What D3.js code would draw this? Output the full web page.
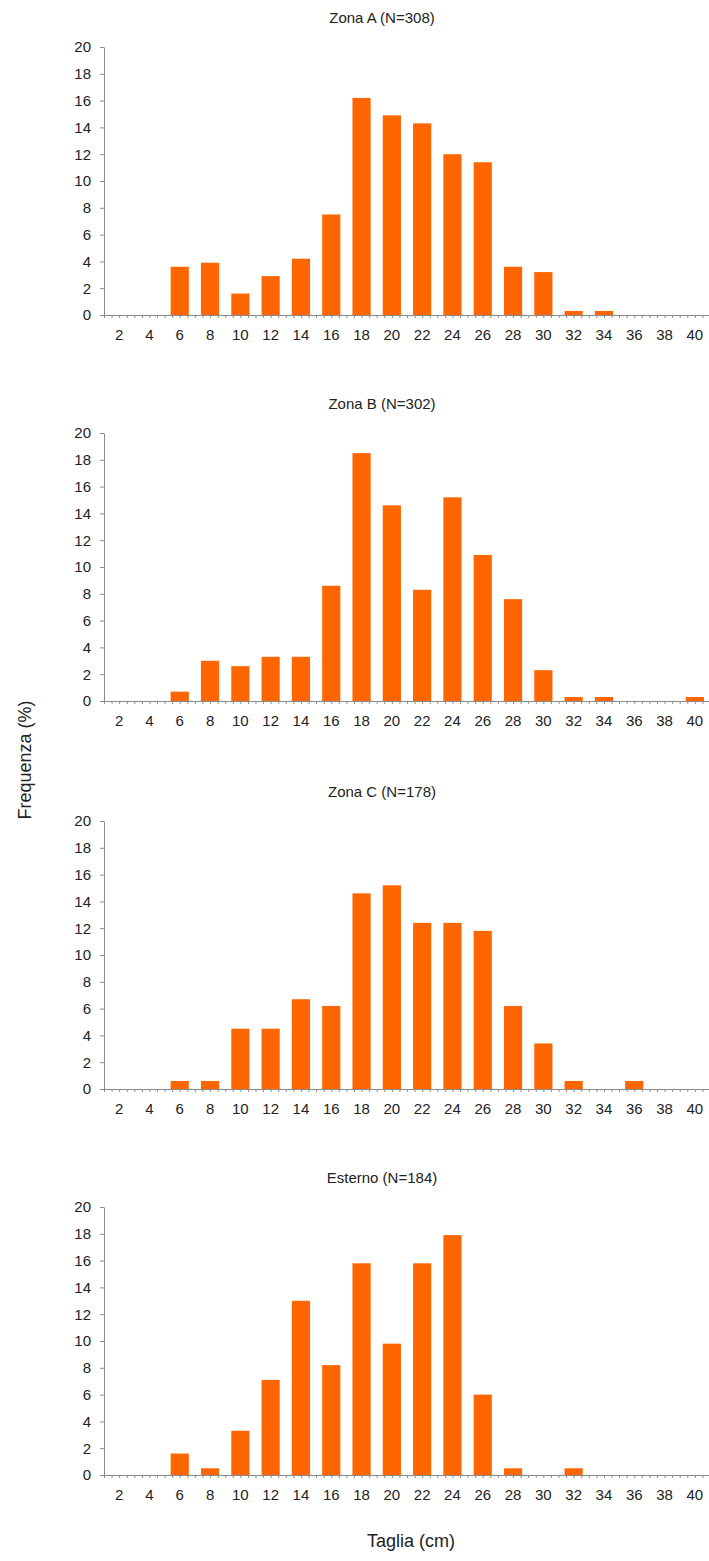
<!DOCTYPE html>
<html>
<head>
<meta charset="utf-8">
<script src="https://cdn.jsdelivr.net/npm/d3@7"></script>
<style>
  body { margin: 0; background: #ffffff; }
  svg { display: block; font-family: "Liberation Sans", Arial, sans-serif; }
</style>
</head>
<body>
<div id="chart"></div>
<script>
// size classes (cm)
const sizes = [2, 4, 6, 8, 10, 12, 14, 16, 18, 20, 22, 24, 26, 28, 30, 32, 34, 36, 38, 40];

// frequency (%) per zone
const zonaA = [0, 0, 3.6, 3.9, 1.6, 2.9, 4.2, 7.5, 16.2, 14.9, 14.3, 12.0, 11.4, 3.6, 3.2, 0.3, 0.3, 0, 0, 0];
const zonaB = [0, 0, 0.7, 3.0, 2.6, 3.3, 3.3, 8.6, 18.5, 14.6, 8.3, 15.2, 10.9, 7.6, 2.3, 0.3, 0.3, 0, 0, 0.3];
const zonaC = [0, 0, 0.6, 0.6, 4.5, 4.5, 6.7, 6.2, 14.6, 15.2, 12.4, 12.4, 11.8, 6.2, 3.4, 0.6, 0, 0.6, 0, 0];
const esterno = [0, 0, 1.6, 0.5, 3.3, 7.1, 13.0, 8.2, 15.8, 9.8, 15.8, 17.9, 6.0, 0.5, 0, 0.5, 0, 0, 0, 0];

const titles = ["Zona A (N=308)", "Zona B (N=302)", "Zona C (N=178)", "Esterno (N=184)"];
const series = [zonaA, zonaB, zonaC, esterno];
const yTicks = [0, 2, 4, 6, 8, 10, 12, 14, 16, 18, 20];

const W = 709, H = 1561;
const plotLeft = 104, plotRight = 710, plotH = 268;
const panelTops = [47, 433, 821, 1207];

var svg = d3.select("#chart").append("svg")
  .attr("width", W)
  .attr("height", H);

var x = d3.scaleBand()
  .domain(sizes)
  .range([plotLeft, plotRight])
  .paddingInner(0.4)
  .paddingOuter(0.2);

// fine tick marks along the x axis (four per class)
var xFine = d3.scaleLinear()
  .domain([0, sizes.length * 4])
  .range([plotLeft, plotRight]);

var y = d3.scaleLinear()
  .domain([0, 20])
  .range([plotH, 0]);

series.forEach(function (values, i) {
  var g = svg.append("g")
    .attr("transform", "translate(0," + panelTops[i] + ")");

  // title
  g.append("text")
    .attr("x", 382)
    .attr("y", -29 + 5)
    .attr("text-anchor", "middle")
    .style("font-size", "15px")
    .style("fill", "#222")
    .text(titles[i]);

  // bars
  g.append("g")
    .selectAll("rect")
    .data(values.map((v, k) => ({ size: sizes[k], value: v })))
    .enter()
    .append("rect")
      .attr("x", d => x(d.size))
      .attr("y", d => y(d.value))
      .attr("width", x.bandwidth())
      .attr("height", d => plotH - y(d.value))
      .style("fill", "#ff6600");

  // y axis
  var yAxis = g.append("g")
    .attr("transform", "translate(" + plotLeft + ",0)")
    .call(d3.axisLeft(y).tickValues(yTicks).tickSize(4).tickPadding(9).tickSizeOuter(0));
  yAxis.select(".domain").attr("stroke", "#8a8a8a");
  yAxis.selectAll(".tick line").attr("stroke", "#8a8a8a");
  yAxis.selectAll("text").style("font-size", "15px").style("fill", "#222");

  // x axis tick marks
  var xTicks = g.append("g")
    .attr("transform", "translate(0," + plotH + ")")
    .call(d3.axisBottom(xFine).ticks(sizes.length * 4).tickSize(3).tickFormat("").tickSizeOuter(0));
  xTicks.select(".domain").attr("stroke", "#8a8a8a");
  xTicks.selectAll(".tick line").attr("stroke", "#8a8a8a");

  // x axis labels
  var xAxis = g.append("g")
    .attr("transform", "translate(0," + plotH + ")")
    .call(d3.axisBottom(x).tickSize(0).tickPadding(14));
  xAxis.select(".domain").remove();
  xAxis.selectAll("text").style("font-size", "15px").style("fill", "#222");
});

// axis titles
svg.append("text")
  .attr("transform", "translate(25,760) rotate(-90)")
  .attr("text-anchor", "middle")
  .attr("dy", "0.35em")
  .style("font-size", "18px")
  .style("fill", "#222")
  .text("Frequenza (%)");

svg.append("text")
  .attr("x", 411)
  .attr("y", 1541)
  .attr("text-anchor", "middle")
  .attr("dy", "0.35em")
  .style("font-size", "18px")
  .style("fill", "#222")
  .text("Taglia (cm)");
</script>
</body>
</html>
